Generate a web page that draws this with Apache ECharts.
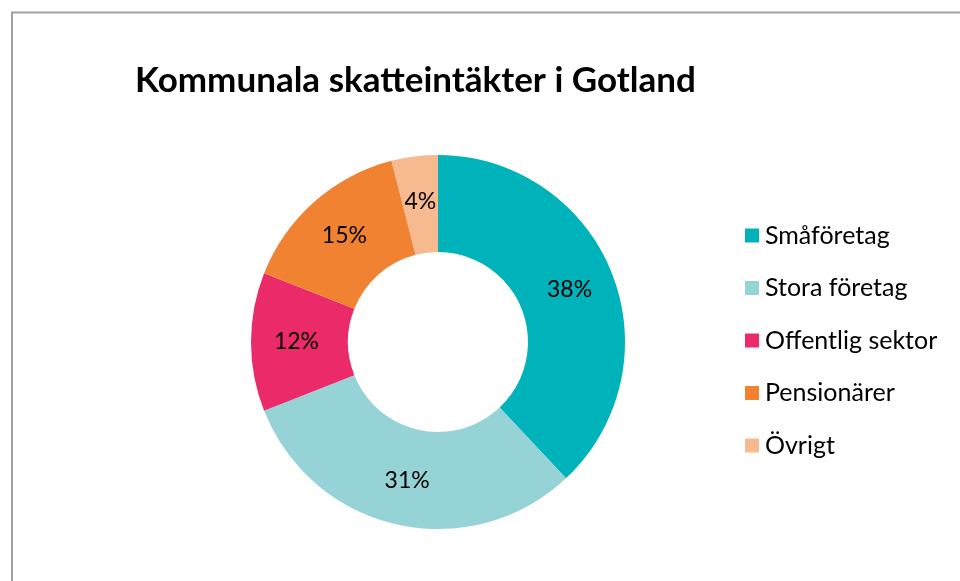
<!DOCTYPE html>
<html>
<head>
<meta charset="utf-8">
<script src="https://cdn.jsdelivr.net/npm/echarts@6/dist/echarts.min.js"></script>
<style>
  html, body { margin: 0; padding: 0; background: #fff; }
  #chart { width: 960px; height: 581px; }
</style>
</head>
<body>
<div id="chart"></div>
<script>
// data
const categories = ["Småföretag", "Stora företag", "Offentlig sektor", "Pensionärer", "Övrigt"];
const shares = [38, 31, 12, 15, 4];
const colors = ["#00b2b9", "#95d3d6", "#eb2a6a", "#f18231", "#f7b98f"];

const chart = echarts.init(document.getElementById("chart"));
const font = "Lato";

chart.setOption({
  backgroundColor: "#fff",
  animation: false,
  title: {
    text: "Kommunala skatteintäkter i Gotland",
    left: 135,
    top: 63,
    padding: 0,
    textStyle: { fontFamily: font, fontSize: 35, fontWeight: "bold", color: "#000" }
  },
  legend: {
    orient: "vertical",
    left: 745,
    top: 223,
    padding: 0,
    itemWidth: 14,
    itemHeight: 14,
    itemGap: 27.5,
    icon: "rect",
    textStyle: { fontFamily: font, fontSize: 25, color: "#000", padding: [0, 0, 0, 1] },
    data: categories
  },
  graphic: [
    {
      type: "polyline",
      shape: { points: [[12, 581], [12, 12.5], [960, 12.5]] },
      style: { stroke: "#a0a0a0", lineWidth: 2, fill: null }
    }
  ],
  series: [
    {
      type: "pie",
      center: [438, 342],
      radius: [90, 187],
      startAngle: 90,
      clockwise: true,
      color: colors,
      label: {
        show: true,
        position: "inside",
        formatter: "{c}%",
        fontFamily: font,
        fontSize: 23,
        color: "#000"
      },
      labelLine: { show: false },
      emphasis: { disabled: true },
      data: categories.map((name, i) => ({ name: name, value: shares[i] }))
    }
  ]
});
</script>
</body>
</html>
